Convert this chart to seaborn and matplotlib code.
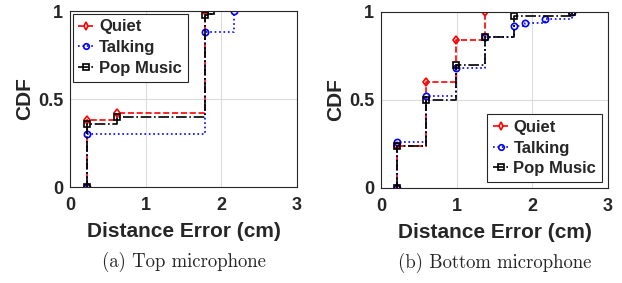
import matplotlib
matplotlib.use("Agg")
import matplotlib.pyplot as plt
import seaborn as sns
import pandas as pd

sns.set_style("white")
plt.rcParams['font.family'] = ['Liberation Sans', 'DejaVu Sans']

series = ["Quiet", "Talking", "Pop Music"]

# Top microphone (a)
top_quiet_x = [0.23, 0.23, 0.62, 1.78]
top_quiet_y = [0.0, 0.38, 0.42, 1.0]
top_talk_x = [0.23, 0.23, 1.78, 2.17]
top_talk_y = [0.0, 0.30, 0.88, 1.0]
top_pop_x = [0.23, 0.23, 0.62, 1.78, 1.86]
top_pop_y = [0.0, 0.36, 0.40, 0.98, 1.0]

# Bottom microphone (b)
bot_quiet_x = [0.21, 0.21, 0.60, 0.99, 1.38]
bot_quiet_y = [0.0, 0.24, 0.60, 0.84, 1.0]
bot_talk_x = [0.21, 0.21, 0.60, 0.99, 1.38, 1.76, 1.90, 2.17, 2.53]
bot_talk_y = [0.0, 0.26, 0.52, 0.68, 0.86, 0.92, 0.94, 0.96, 1.0]
bot_pop_x = [0.21, 0.21, 0.60, 0.99, 1.38, 1.76, 2.53]
bot_pop_y = [0.0, 0.24, 0.50, 0.70, 0.86, 0.98, 1.0]

x_ticks = [0, 1, 2, 3]
y_ticks = [0, 0.5, 1]
y_tick_labels = ["0", "0.5", "1"]
captions = ["(a) Top microphone", "(b) Bottom microphone"]

styles = {
    "Quiet": dict(color="red", linestyle="--", marker="d"),
    "Talking": dict(color="blue", linestyle=":", marker="o"),
    "Pop Music": dict(color="black", linestyle="-.", marker="s"),
}

fig = plt.figure(figsize=(6.22, 2.83), dpi=100)
ax1 = fig.add_axes([70/622, 1-187/283, 227/622, 176/283])
ax2 = fig.add_axes([381/622, 1-188/283, 227/622, 176/283])

panels = [
    (ax1, [(top_quiet_x, top_quiet_y), (top_talk_x, top_talk_y), (top_pop_x, top_pop_y)], "upper left", 0.15),
    (ax2, [(bot_quiet_x, bot_quiet_y), (bot_talk_x, bot_talk_y), (bot_pop_x, bot_pop_y)], "lower right", 0.35),
]

for i, (ax, data, loc, bap) in enumerate(panels):
    handles = []
    for name, (xs, ys) in zip(series, data):
        df = pd.DataFrame({"x": xs, "y": ys})
        st = styles[name]
        sns.lineplot(data=df, x="x", y="y", ax=ax, estimator=None, sort=False,
                     drawstyle="steps-post", color=st["color"], linestyle=st["linestyle"],
                     marker=st["marker"], markersize=4.5, markerfacecolor="none",
                     markeredgecolor=st["color"], markeredgewidth=1.2, linewidth=1.2)
        h, = ax.plot([], [], color=st["color"], linestyle=st["linestyle"], marker=st["marker"],
                     markersize=4, markerfacecolor="none", markeredgewidth=1.2, linewidth=1.2)
        handles.append(h)
    ax.set_xlim(0, 3)
    ax.set_ylim(0, 1)
    ax.set_xticks(x_ticks)
    ax.set_yticks(y_ticks)
    ax.set_xticklabels([str(t) for t in x_ticks], fontweight="bold", fontsize=13)
    ax.set_yticklabels(y_tick_labels, fontweight="bold", fontsize=13)
    ax.grid(True, color="#dcdcdc", linewidth=0.8)
    ax.tick_params(axis="x", direction="in", length=3, pad=7)
    ax.tick_params(axis="y", direction="in", length=3, pad=5)
    for sp in ax.spines.values():
        sp.set_visible(True)
        sp.set_color("#262626")
        sp.set_linewidth(0.8)
    ax.set_xlabel("Distance Error (cm)", fontweight="bold", fontsize=15, labelpad=6)
    ax.set_ylabel("CDF", fontweight="bold", fontsize=15, labelpad=3)
    leg = ax.legend(handles, series, loc=loc, prop=dict(weight="bold", size=12),
                    fancybox=False, framealpha=1, edgecolor="#262626",
                    borderpad=0.35, labelspacing=0.35, handlelength=0.95, handletextpad=0.3,
                    borderaxespad=bap)
    leg.get_frame().set_linewidth(0.8)
    ax.text(0.5, -0.425, captions[i], transform=ax.transAxes, ha="center", va="center",
            fontsize=13.5, family="cmr10")

fig.savefig("out.png", dpi=100)
